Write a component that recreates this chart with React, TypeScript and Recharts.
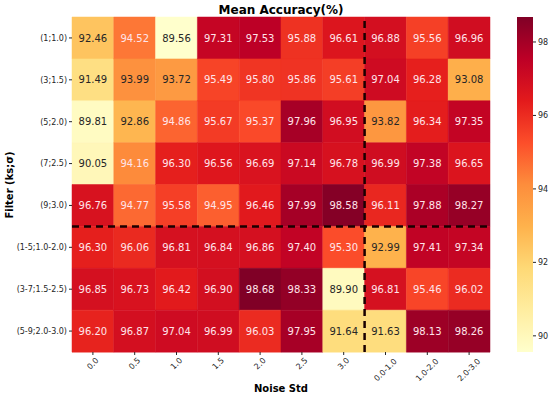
import React from "react";
import { BarChart, Bar, Cell, XAxis, YAxis, ReferenceLine } from "recharts";

const rowLabels = [
  "(1;1.0)",
  "(3;1.5)",
  "(5;2.0)",
  "(7;2.5)",
  "(9;3.0)",
  "(1-5;1.0-2.0)",
  "(3-7;1.5-2.5)",
  "(5-9;2.0-3.0)",
];

const colLabels = ["0.0", "0.5", "1.0", "1.5", "2.0", "2.5", "3.0", "0.0-1.0", "1.0-2.0", "2.0-3.0"];

const accuracy: number[][] = [
  [92.46, 94.52, 89.56, 97.31, 97.53, 95.88, 96.61, 96.88, 95.56, 96.96],
  [91.49, 93.99, 93.72, 95.49, 95.8, 95.86, 95.61, 97.04, 96.28, 93.08],
  [89.81, 92.86, 94.86, 95.67, 95.37, 97.96, 96.95, 93.82, 96.34, 97.35],
  [90.05, 94.16, 96.3, 96.56, 96.69, 97.14, 96.78, 96.99, 97.38, 96.65],
  [96.76, 94.77, 95.58, 94.95, 96.46, 97.99, 98.58, 96.11, 97.88, 98.27],
  [96.3, 96.06, 96.81, 96.84, 96.86, 97.4, 95.3, 92.99, 97.41, 97.34],
  [96.85, 96.73, 96.42, 96.9, 98.68, 98.33, 89.9, 96.81, 95.46, 96.02],
  [96.2, 96.87, 97.04, 96.99, 96.03, 97.95, 91.64, 91.63, 98.13, 98.26],
];

const colorbarTicks = [90, 92, 94, 96, 98];

const VMIN = Math.min(...accuracy.flat());
const VMAX = Math.max(...accuracy.flat());

// matplotlib YlOrRd
const YLORRD = ["#ffffcc", "#ffeda0", "#fed976", "#feb24c", "#fd8d3c", "#fc4e2a", "#e31a1c", "#bd0026", "#800026"];

function hexToRgb(h: string) {
  return [1, 3, 5].map((i) => parseInt(h.slice(i, i + 2), 16));
}

function colorFor(v: number) {
  const t = Math.max(0, Math.min(1, (v - VMIN) / (VMAX - VMIN))) * (YLORRD.length - 1);
  const i = Math.min(Math.floor(t), YLORRD.length - 2);
  const f = t - i;
  const a = hexToRgb(YLORRD[i]);
  const b = hexToRgb(YLORRD[i + 1]);
  const c = a.map((x, k) => Math.round(x + (b[k] - x) * f));
  return `rgb(${c[0]},${c[1]},${c[2]})`;
}

function textColor(v: number) {
  const m = colorFor(v).match(/\d+/g)!.map((x) => Number(x) / 255);
  const lin = m.map((c) => (c <= 0.03928 ? c / 12.92 : Math.pow((c + 0.055) / 1.055, 2.4)));
  const lum = 0.2126 * lin[0] + 0.7152 * lin[1] + 0.0722 * lin[2];
  return lum > 0.408 ? "#262626" : "#ffe4ea";
}

const tableData = rowLabels.map((row) => {
  const d: Record<string, any> = { row };
  colLabels.forEach((_, j) => (d["c" + j] = 1));
  return d;
});

const colTicks = colLabels.map((_, j) => j + 0.5);

const XTick = ({ x, y, payload }: any) => {
  const label = colLabels[Math.floor(payload.value)];
  const fs = 8;
  const w = label.length * fs * 0.56;
  const cy = y + ((w + fs * 0.7) * 0.707) / 2;
  return (
    <text
      x={x}
      y={cy}
      transform={`rotate(-45 ${x} ${cy})`}
      textAnchor="middle"
      dominantBaseline="central"
      fontSize={fs}
      fill="#262626"
    >
      {label}
    </text>
  );
};

export default function App() {
  return (
    <div style={{ position: "absolute", left: 0, top: 0, width: 550, height: 397, fontFamily: "DejaVu Sans", background: "#fff" }}>
      <BarChart
        width={550}
        height={397}
        data={tableData}
        layout="vertical"
        margin={{ top: 17, right: 60, left: 0, bottom: 0 }}
        barCategoryGap={0}
      >
        <XAxis
          type="number"
          domain={[0, colLabels.length]}
          ticks={colTicks}
          axisLine={false}
          tickSize={3}
          tickLine={{ stroke: "#262626" }}
          height={45}
          interval={0}
          tick={<XTick />}
        />
        <YAxis
          type="category"
          dataKey="row"
          width={72}
          axisLine={false}
          tickSize={3}
          tickMargin={2}
          tickLine={{ stroke: "#262626" }}
          tick={{ fontSize: 8, fill: "#262626" }}
          interval={0}
        />
        {colLabels.map((_, j) => (
          <Bar
            key={j}
            dataKey={"c" + j}
            stackId="h"
            isAnimationActive={false}
            label={(p: any) => {
              const v = accuracy[p.index][j];
              return (
                <text
                  x={p.x + p.width / 2}
                  y={p.y + p.height / 2}
                  textAnchor="middle"
                  dominantBaseline="central"
                  fontSize={10}
                  fill={textColor(v)}
                >
                  {v.toFixed(2)}
                </text>
              );
            }}
          >
            {rowLabels.map((_, i) => (
              <Cell key={i} fill={colorFor(accuracy[i][j])} stroke={colorFor(accuracy[i][j])} strokeWidth={0.5} />
            ))}
          </Bar>
        ))}
        <ReferenceLine x={7} stroke="#1a0000" strokeWidth={2.5} strokeDasharray="7 5" />
        <ReferenceLine y={rowLabels[5]} position="start" stroke="#1a0000" strokeWidth={2.5} strokeDasharray="7 5" />
        <text x={281} y={14} textAnchor="middle" fontSize={12} fontWeight="bold" fill="#000">
          Mean Accuracy(%)
        </text>
        <text x={281} y={392} textAnchor="middle" fontSize={10} fontWeight="bold" fill="#000">
          Noise Std
        </text>
        <text x={13} y={185} transform="rotate(-90 13 185)" textAnchor="middle" fontSize={10} fontWeight="bold" fill="#000">
          Filter (ks;σ)
        </text>
      </BarChart>
      <div style={{ position: "absolute", left: 517, top: 0 }}>
        <BarChart
          width={50}
          height={397}
          data={[{ k: "cb", range: [VMIN, VMAX] }]}
          margin={{ top: 17, right: 0, left: 0, bottom: 45 }}
          barCategoryGap={0}
        >
          <defs>
            <linearGradient id="cbGrad" x1="0" y1="0" x2="0" y2="1">
              {YLORRD.map((_, k) => (
                <stop key={k} offset={`${(k / (YLORRD.length - 1)) * 100}%`} stopColor={YLORRD[YLORRD.length - 1 - k]} />
              ))}
            </linearGradient>
          </defs>
          <XAxis dataKey="k" hide />
          <YAxis
            orientation="right"
            type="number"
            domain={[VMIN, VMAX]}
            ticks={colorbarTicks}
            width={34}
            axisLine={false}
            tickSize={3}
            tickMargin={2}
            tickLine={{ stroke: "#262626" }}
            tick={{ fontSize: 8, fill: "#262626", textAnchor: "start" }}
            allowDataOverflow
          />
          <Bar dataKey="range" fill="url(#cbGrad)" isAnimationActive={false} />
        </BarChart>
      </div>
    </div>
  );
}
